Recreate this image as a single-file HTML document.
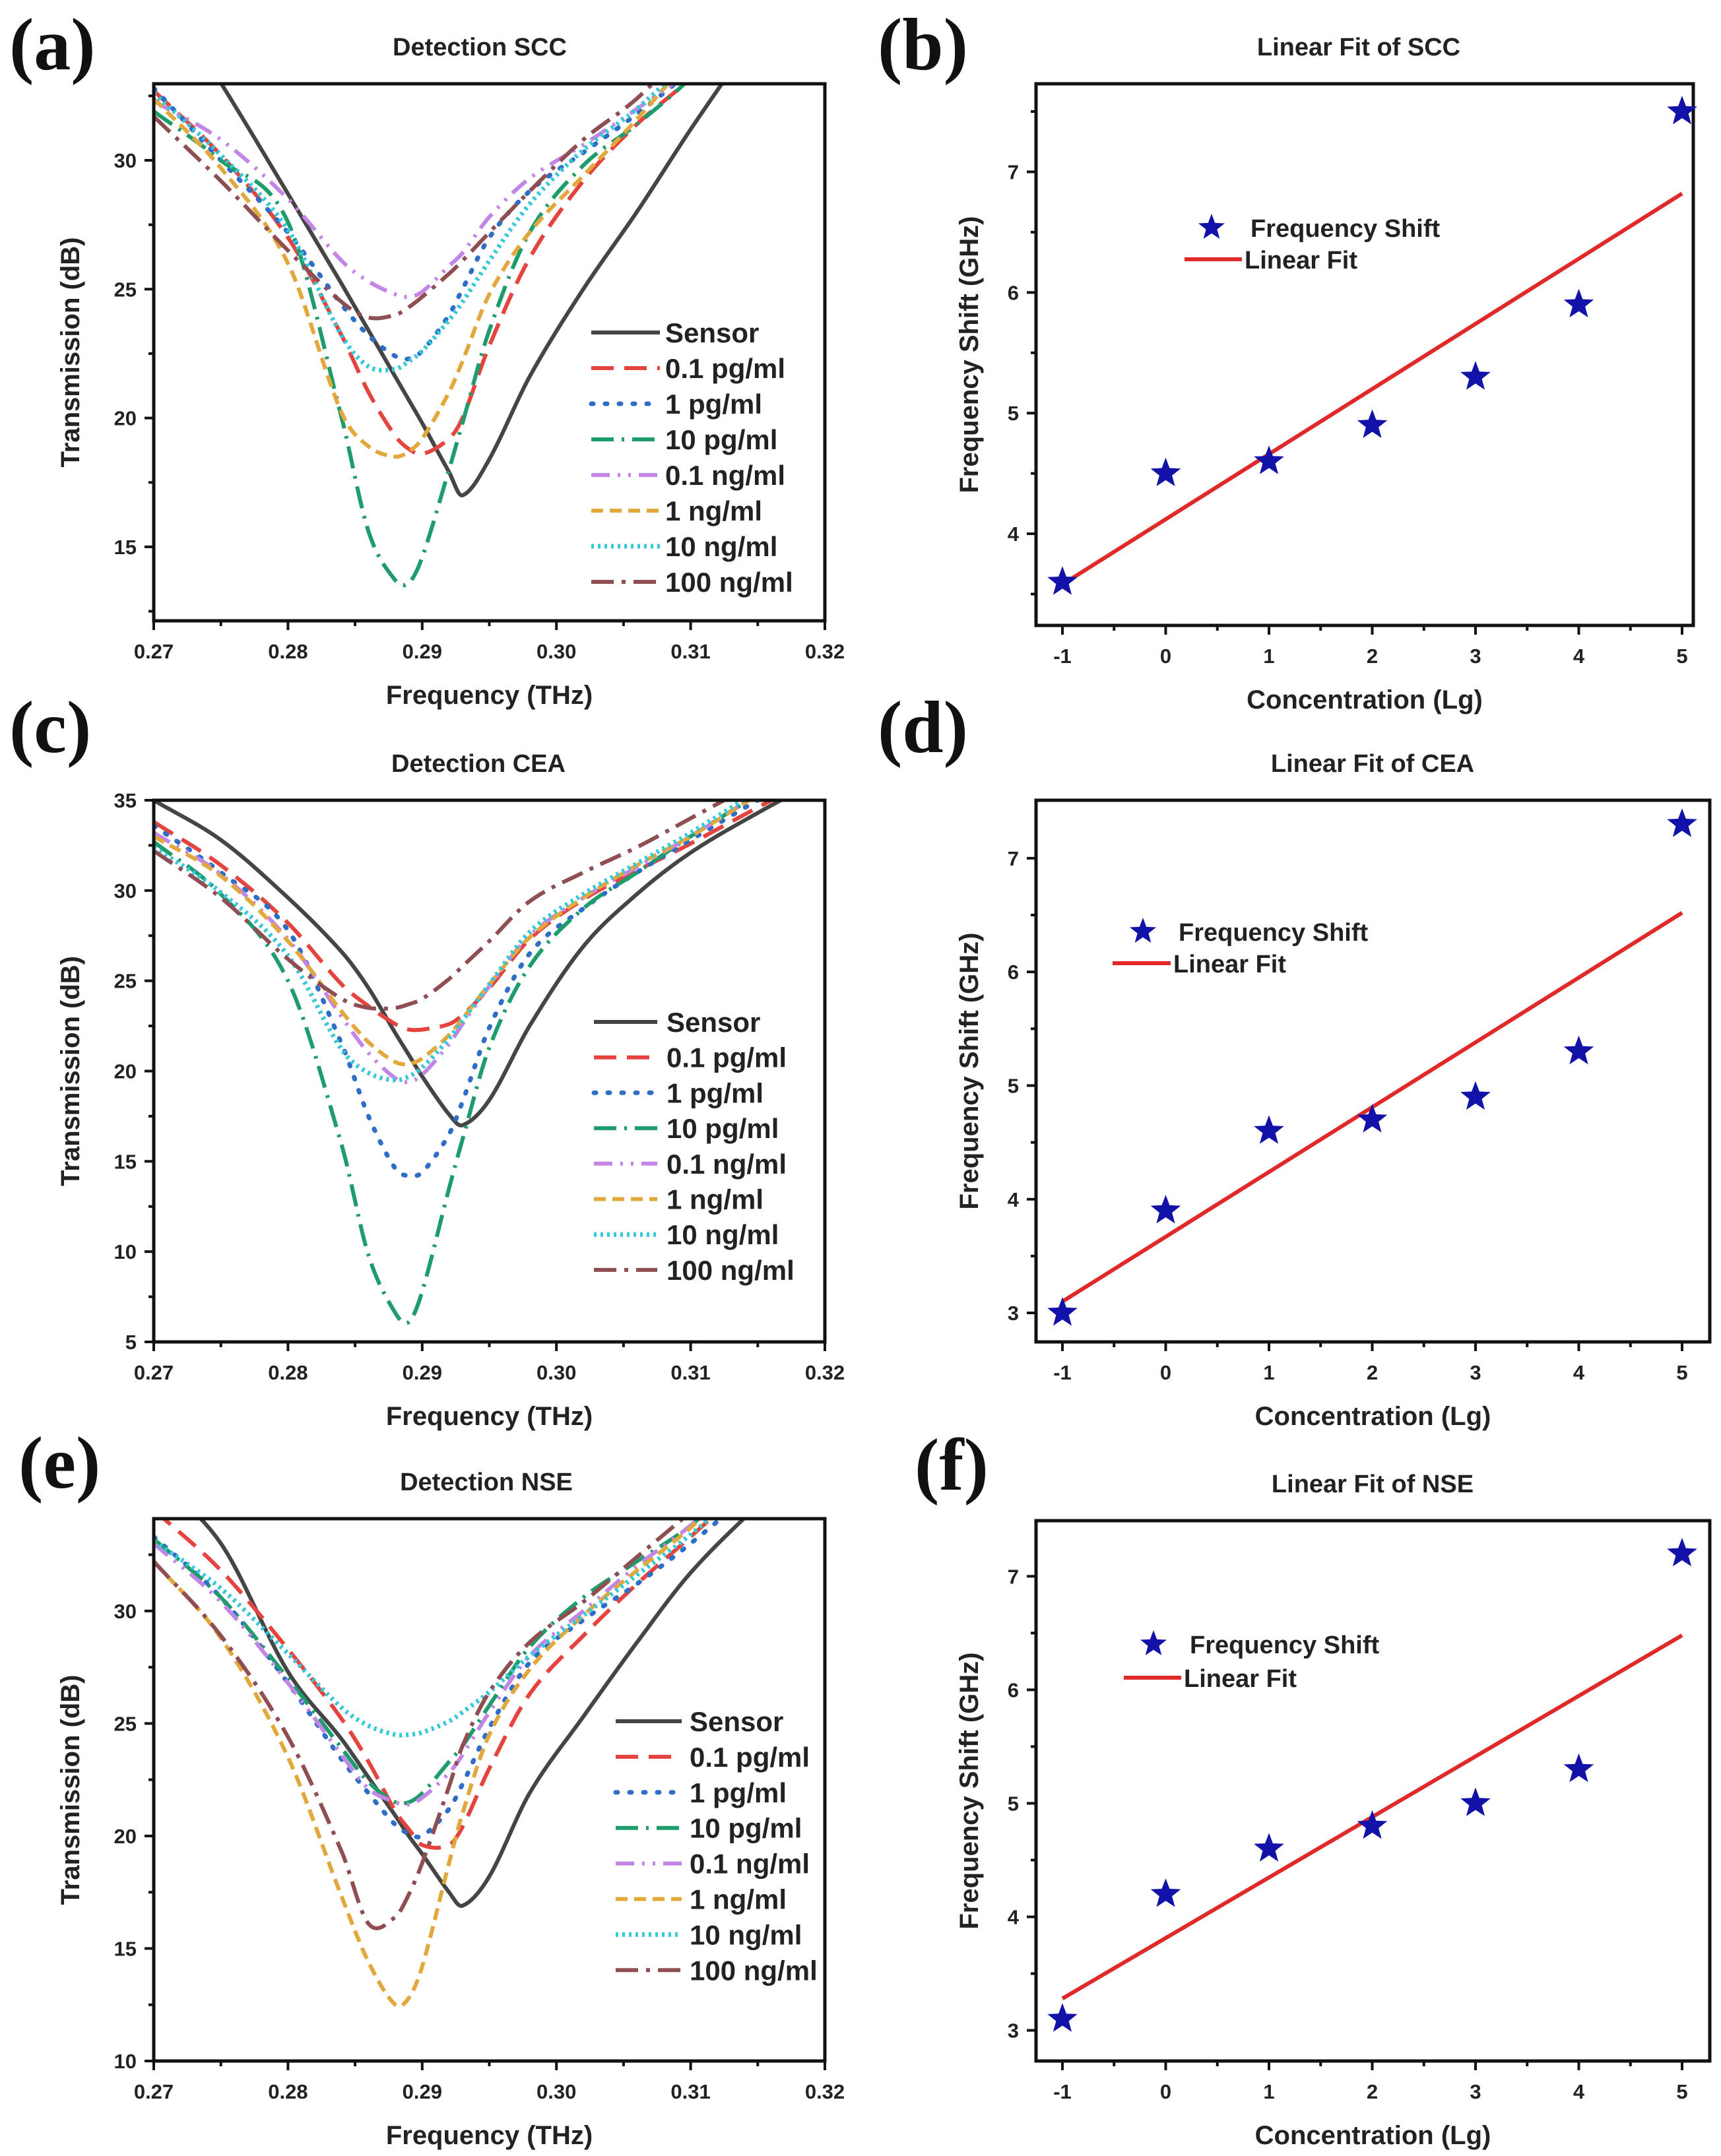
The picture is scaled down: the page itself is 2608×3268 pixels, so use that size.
<!DOCTYPE html>
<html><head><meta charset="utf-8"><style>
html,body{margin:0;padding:0;background:#fff;}
svg{display:block;font-family:"Liberation Sans",Arial,sans-serif;}
</style></head><body>
<svg id="fig" width="2608" height="3268" viewBox="0 0 2608 3268" xmlns="http://www.w3.org/2000/svg"></svg>
<script>
// ---- data ----
const freqGrid = [0.270,0.275,0.280,0.284,0.286,0.288,0.289,0.290,0.292,0.293,0.295,0.298,0.302,0.306,0.310,0.315,0.320];
const seriesLabels = ["Sensor","0.1 pg/ml","1 pg/ml","10 pg/ml","0.1 ng/ml","1 ng/ml","10 ng/ml","100 ng/ml"];
const sccSensor = [37,33,28.7,25.2,23.4,21.6,20.7,19.8,17.9,17.0,18.4,21.6,25.0,28.0,31.2,35,39];
const scc01pg = [32.7,30.2,27.0,23.2,21.0,19.3,18.8,18.6,19.2,20.0,22.8,26.2,29.2,31.4,33.2,36,39];
const scc1pg = [32.8,30.0,27.2,24.4,23.2,22.4,22.3,22.6,24.0,25.0,27.0,28.8,30.3,31.8,33.5,36,39];
const scc10pg = [31.9,30.0,27.6,20.0,15.6,13.7,13.6,14.6,18.0,19.8,23.4,27.2,29.8,31.4,33.2,36,39];
const scc01ng = [32.3,30.8,28.5,26.1,25.3,24.8,24.7,24.9,25.9,26.4,27.8,29.3,30.6,32.0,33.5,36,39];
const scc1ng = [32.4,29.7,26.0,20.2,18.9,18.5,18.7,19.2,21.0,22.2,24.8,27.2,29.4,31.6,34,37,40];
const scc10ng = [32.6,30.2,27.3,23.2,22.0,21.9,22.2,22.6,23.8,24.5,26.1,28.3,30.4,32.0,34,37,40];
const scc100ng = [31.7,29.2,26.5,24.5,23.9,24.0,24.3,24.7,25.6,26.1,27.2,28.8,30.8,32.4,34.5,37,40];

const ceaSensor = [35.0,32.8,29.6,26.6,24.6,22.1,20.9,19.7,17.6,17.0,18.4,22.5,26.9,29.8,32.1,34.3,36.3];
const cea01pg = [33.8,31.4,28.2,24.8,23.6,22.6,22.3,22.3,22.6,23.1,24.6,27.3,29.5,31.1,32.6,34.6,36.5];
const cea1pg = [33.6,31.0,27.8,21.5,17.5,14.6,14.2,14.4,16.5,18.3,22.4,26.5,29.0,31.0,32.8,35,37];
const cea10pg = [32.7,29.8,25.0,15.9,9.8,6.6,6.1,7.8,13.5,16.2,21.3,25.8,29.0,31.0,33.0,35.3,37.5];
const cea01ng = [33.2,30.9,27.3,23.0,21.0,19.6,19.4,19.8,21.5,22.6,24.7,27.5,29.6,31.3,33.0,35.3,37.5];
const cea1ng = [33.0,30.8,27.2,23.3,21.6,20.5,20.4,20.7,22.0,22.9,24.8,27.4,29.6,31.4,33.0,35.3,37.5];
const cea10ng = [32.4,29.9,26.4,21.2,19.9,19.5,19.7,20.2,21.8,22.8,24.8,27.7,29.8,31.5,33.2,35.5,37.7];
const cea100ng = [32.2,29.6,26.2,24.0,23.5,23.5,23.7,24.0,25.1,25.8,27.2,29.4,31.0,32.4,34.0,36,38];

const nseSensor = [36,33.0,27.3,24.3,22.6,20.9,20.0,19.2,17.5,16.9,18.2,21.9,25.3,28.6,31.7,34.7,37.5];
const nse01pg = [34.5,31.8,28.3,25.2,23.3,21.1,20.3,19.6,19.6,20.4,23.0,26.3,28.9,31.2,33.3,36,38.5];
const nse1pg = [33.3,30.6,26.8,23.4,21.9,20.5,20.1,20.0,21.2,22.3,24.8,27.7,29.6,31.2,33.0,35.5,38];
const nse10pg = [33.2,30.6,27.0,23.9,22.4,21.5,21.5,21.9,23.3,24.0,25.8,28.4,30.6,32.2,33.8,36.5,39];
const nse01ng = [33.0,30.4,26.8,23.6,22.1,21.5,21.4,21.7,22.8,23.6,25.5,28.0,30.0,32.0,33.8,36.5,39];
const nse1ng = [32.2,28.8,23.5,17.3,14.4,12.5,12.8,14.2,18.8,21.0,24.5,27.4,29.8,31.8,33.7,36.5,39];
const nse10ng = [33.1,31.0,28.1,25.7,24.9,24.5,24.5,24.6,25.1,25.5,26.4,28.0,29.8,31.6,33.4,36,38.5];
const nse100ng = [32.2,28.9,24.4,19.3,16.1,16.4,17.4,18.8,22.2,24.0,26.4,28.6,30.4,32.4,34.4,37,39.5];

const concentrations = [-1,0,1,2,3,4,5];
const sccShift = [3.6,4.5,4.6,4.9,5.3,5.9,7.5];
const ceaShift = [3.0,3.9,4.6,4.7,4.9,5.3,7.3];
const nseShift = [3.1,4.2,4.6,4.8,5.0,5.3,7.2];
const sccFit = [3.58,6.82];
const ceaFit = [3.10,6.52];
const nseFit = [3.28,6.48];
const freqTicks = ["0.27","0.28","0.29","0.30","0.31","0.32"];
const concTicks = ["-1","0","1","2","3","4","5"];

// ---- rendering ----
const NS="http://www.w3.org/2000/svg";
const svg=document.getElementById('fig');
function mk(tag,attrs,parent){const e=document.createElementNS(NS,tag);for(const k in attrs)e.setAttribute(k,attrs[k]);(parent||svg).appendChild(e);return e;}
function txt(s,attrs,parent){const e=mk('text',attrs,parent);e.textContent=s;return e;}

const styles=[
 {c:'#454545',d:''},
 {c:'#e5433d',d:'34 16'},
 {c:'#2f6ec6',d:'3 18'},
 {c:'#1e9c6c',d:'34 12 4 12'},
 {c:'#c486e6',d:'28 12 4 12 4 12'},
 {c:'#e2a83c',d:'18 10'},
 {c:'#35c8d8',d:'4 6'},
 {c:'#8e4e52',d:'34 12 6 12'}
];

// Hermite spline through pixel points with nonuniform spacing
function smoothPath(pts){
  const n=pts.length;const m=[];
  for(let i=0;i<n;i++){
    if(i==0)m.push((pts[1][1]-pts[0][1])/(pts[1][0]-pts[0][0]));
    else if(i==n-1)m.push((pts[n-1][1]-pts[n-2][1])/(pts[n-1][0]-pts[n-2][0]));
    else m.push((pts[i+1][1]-pts[i-1][1])/(pts[i+1][0]-pts[i-1][0]));
  }
  let d='M'+pts[0][0].toFixed(1)+','+pts[0][1].toFixed(1);
  for(let i=0;i<n-1;i++){
    const h=pts[i+1][0]-pts[i][0];
    const c1=[pts[i][0]+h/3,pts[i][1]+m[i]*h/3];
    const c2=[pts[i+1][0]-h/3,pts[i+1][1]-m[i+1]*h/3];
    d+=' C'+c1[0].toFixed(1)+','+c1[1].toFixed(1)+' '+c2[0].toFixed(1)+','+c2[1].toFixed(1)+' '+pts[i+1][0].toFixed(1)+','+pts[i+1][1].toFixed(1);
  }
  return d;
}

function starPts(cx,cy,R){const r=R*0.42;let s=[];for(let i=0;i<10;i++){const a=-Math.PI/2+i*Math.PI/5;const rr=i%2?r:R;s.push((cx+rr*Math.cos(a)).toFixed(1)+','+(cy+rr*Math.sin(a)).toFixed(1));}return s.join(' ');}

let clipN=0;
function frame(g,P,name){
  const sx=v=>P.x0+(v-P.xd[0])/(P.xd[1]-P.xd[0])*(P.x1-P.x0);
  const sy=v=>P.y1-(v-P.yd[0])/(P.yd[1]-P.yd[0])*(P.y1-P.y0);
  P.xTickVals.forEach((v,i)=>{
    const x=sx(v);
    const t=mk('line',{x1:x,y1:P.y1,x2:x,y2:P.y1+14,stroke:'#111','stroke-width':4},g);
    
    
    const l=txt(P.xTickLabels[i],{x:x,y:P.y1+57,'text-anchor':'middle','font-size':31,'font-weight':'bold',fill:'#222'},g);
    
    
  });
  P.xMinor.forEach(v=>{const x=sx(v);const t=mk('line',{x1:x,y1:P.y1,x2:x,y2:P.y1+8,stroke:'#111','stroke-width':4},g);
    
    });
  P.yTickVals.forEach(v=>{
    const y=sy(v);
    const t=mk('line',{x1:P.x0-14,y1:y,x2:P.x0,y2:y,stroke:'#111','stroke-width':4},g);
    
    
    const l=txt(String(v),{x:P.x0-26,y:y+11,'text-anchor':'end','font-size':31,'font-weight':'bold',fill:'#222'},g);
    
    
  });
  P.yMinor.forEach(v=>{const y=sy(v);if(y<P.y0+2||y>P.y1-2)return;const t=mk('line',{x1:P.x0-8,y1:y,x2:P.x0,y2:y,stroke:'#111','stroke-width':4},g);
    
    });
  const b=mk('rect',{x:P.x0,y:P.y0,width:P.x1-P.x0,height:P.y1-P.y0,fill:'none',stroke:'#111','stroke-width':5},g);
  
  
  const cx=(P.x0+P.x1)/2;
  const tt=txt(P.title,{x:P.titleX||cx,y:P.y0-43,'text-anchor':'middle','font-size':38,'font-weight':'bold',fill:'#222'},g);
  
  
  const xt=txt(P.xTitle,{x:cx,y:P.y1+126,'text-anchor':'middle','font-size':40,'font-weight':'bold',fill:'#222'},g);
  
  
  const ymid=(P.y0+P.y1)/2;
  const yt=txt(P.yTitle,{x:P.yTitleX,y:ymid,'text-anchor':'middle','font-size':40,'font-weight':'bold',fill:'#222',transform:'rotate(-90 '+P.yTitleX+' '+ymid+')'},g);
  
  
  const pl=txt(P.letter,{x:P.lx,y:P.ly,'font-size':112,'font-weight':'bold','font-family':'"Liberation Serif",serif',fill:'#111'},g);
  
  
  return {sx,sy};
}

function spectrumPanel(P,seriesArr,name){
  const g=mk('g',{});
  
  
  P.xTickVals=[0.27,0.28,0.29,0.30,0.31,0.32];P.xTickLabels=freqTicks;
  P.xMinor=[0.275,0.285,0.295,0.305,0.315];
  P.yMinor=[];for(let v=0;v<=40;v+=2.5)if(v%5)P.yMinor.push(v);
  P.xd=[0.27,0.32];P.xTitle='Frequency (THz)';P.yTitle='Transmission (dB)';P.yTitleX=120;
  const id='clip'+(clipN++);
  const cp=mk('clipPath',{id:id},g);mk('rect',{x:P.x0,y:P.y0,width:P.x1-P.x0,height:P.y1-P.y0},cp);
  const sx=v=>P.x0+(v-P.xd[0])/(P.xd[1]-P.xd[0])*(P.x1-P.x0);
  const sy=v=>P.y1-(v-P.yd[0])/(P.yd[1]-P.yd[0])*(P.y1-P.y0);
  const cg=mk('g',{'clip-path':'url(#'+id+')'},g);
  seriesArr.forEach((vals,i)=>{
    const pts=freqGrid.map((f,j)=>[sx(f),sy(vals[j])]);
    const st=styles[i];
    const p=mk('path',{d:smoothPath(pts),fill:'none',stroke:st.c,'stroke-width':i==2||i==6?7:6,'stroke-dasharray':st.d,'stroke-linecap':i==2?'round':'butt'},cg);
    
    
  });
  frame(g,P,name);
  seriesLabels.forEach((lab,i)=>{
    const y=P.leg.y0+i*P.leg.dy;const st=styles[i];
    const ln=mk('line',{x1:P.leg.a,y1:y,x2:P.leg.b,y2:y,stroke:st.c,'stroke-width':i==2||i==6?7:6,'stroke-dasharray':st.d,'stroke-linecap':i==2?'round':'butt'},g);
    
    
    const t=txt(lab,{x:P.leg.t,y:y+15,'font-size':42,'font-weight':'bold',fill:'#222'},g);
    
    
  });
}

function fitPanel(P,shift,fit,name){
  const g=mk('g',{});
  
  
  const pxPerUnit=(2549-1610)/6;
  P.xd=[-1-(1610-P.x0)/pxPerUnit,5+(P.x1-2549)/pxPerUnit];
  P.xTickVals=concentrations;P.xTickLabels=concTicks;P.xMinor=[-0.5,0.5,1.5,2.5,3.5,4.5];
  P.yMinor=[2.5,3.5,4.5,5.5,6.5,7.5];
  P.xTitle='Concentration (Lg)';P.yTitle='Frequency Shift (GHz)';P.yTitleX=1482;
  const s=frame(g,P,name);
  const fl=mk('line',{x1:s.sx(concentrations[0]),y1:s.sy(fit[0]),x2:s.sx(concentrations[concentrations.length-1]),y2:s.sy(fit[1]),stroke:'#e02a2a','stroke-width':6},g);
  
  
  concentrations.forEach((c,i)=>{
    const st=mk('polygon',{points:starPts(s.sx(c),s.sy(shift[i]),24),fill:'#1212a8'},g);
    
    
  });
  const ls=mk('polygon',{points:starPts(P.leg.sx,P.leg.sy,21),fill:'#1212a8'},g);
  
  
  const t1=txt('Frequency Shift',{x:P.leg.t,y:P.leg.sy+14,'font-size':38,'font-weight':'bold',fill:'#222'},g);
  
  
  const ll=mk('line',{x1:P.leg.a,y1:P.leg.ly,x2:P.leg.b,y2:P.leg.ly,stroke:'#e02a2a','stroke-width':6},g);
  
  
  const t2=txt('Linear Fit',{x:P.leg.b+4,y:P.leg.ly+14,'font-size':38,'font-weight':'bold',fill:'#222'},g);
  
  
}

spectrumPanel({x0:233,x1:1250,y0:127,y1:941,yd:[12.13,32.97],yTickVals:[15,20,25,30],title:'Detection SCC',titleX:727,letter:'(a)',lx:14,ly:105,
  leg:{a:896,b:1000,t:1008,y0:504,dy:54}},[sccSensor,scc01pg,scc1pg,scc10pg,scc01ng,scc1ng,scc10ng,scc100ng],'panel-a-detection-scc');
spectrumPanel({x0:233,x1:1250,y0:1213,y1:2034,yd:[5,35],yTickVals:[5,10,15,20,25,30,35],title:'Detection CEA',titleX:725,letter:'(c)',lx:14,ly:1140,
  leg:{a:900,b:996,t:1010,y0:1549,dy:53.7}},[ceaSensor,cea01pg,cea1pg,cea10pg,cea01ng,cea1ng,cea10ng,cea100ng],'panel-c-detection-cea');
spectrumPanel({x0:233,x1:1250,y0:2302,y1:3124,yd:[10,34.1],yTickVals:[10,15,20,25,30],title:'Detection NSE',titleX:737,letter:'(e)',lx:28,ly:2255,
  leg:{a:933,b:1033,t:1045,y0:2609,dy:53.9}},[nseSensor,nse01pg,nse1pg,nse10pg,nse01ng,nse1ng,nse10ng,nse100ng],'panel-e-detection-nse');

fitPanel({x0:1570,x1:2566,y0:127,y1:948,yd:[3.24,7.73],yTickVals:[4,5,6,7],title:'Linear Fit of SCC',titleX:2059,letter:'(b)',lx:1330,ly:105,
  leg:{sx:1836,sy:345,t:1895,a:1795,b:1882,ly:393}},sccShift,sccFit,'panel-b-linear-fit-scc');
fitPanel({x0:1570,x1:2591,y0:1213,y1:2034,yd:[2.745,7.51],yTickVals:[3,4,5,6,7],title:'Linear Fit of CEA',titleX:2080,letter:'(d)',lx:1330,ly:1140,
  leg:{sx:1732,sy:1412,t:1786,a:1686,b:1774,ly:1460}},ceaShift,ceaFit,'panel-d-linear-fit-cea');
fitPanel({x0:1570,x1:2591,y0:2305,y1:3124,yd:[2.73,7.49],yTickVals:[3,4,5,6,7],title:'Linear Fit of NSE',titleX:2080,letter:'(f)',lx:1386,ly:2258,
  leg:{sx:1748,sy:2492,t:1803,a:1703,b:1790,ly:2543}},nseShift,nseFit,'panel-f-linear-fit-nse');
</script>
</body></html>
